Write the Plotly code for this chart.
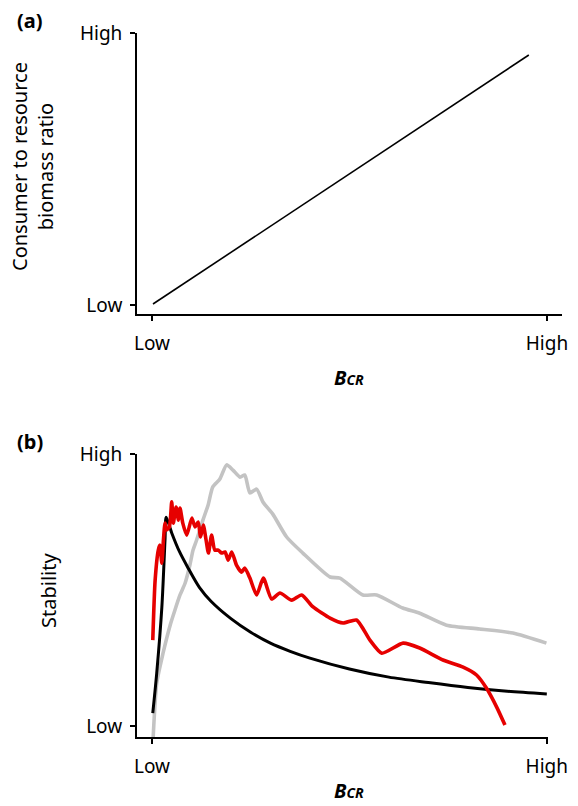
import plotly.graph_objects as go

# ---------- data ----------
tick_vals = [0, 1]
tick_text = ["Low", "High"]

# panel (a): consumer to resource biomass ratio vs B_CR
a_x = [0.0025, 0.954]
a_y = [0.0037, 0.919]

# panel (b): stability curves
black_x = [0.002, 0.012, 0.025, 0.033, 0.036, 0.05, 0.07, 0.09, 0.12, 0.15, 0.2, 0.25,
           0.3, 0.35, 0.4, 0.5, 0.6, 0.7, 0.8, 0.9, 1.0]
black_y = [0.048, 0.195, 0.437, 0.684, 0.768, 0.71, 0.64, 0.585, 0.51, 0.458, 0.395, 0.345,
           0.305, 0.275, 0.25, 0.21, 0.18, 0.16, 0.142, 0.128, 0.118]

gray_x = [0.003, 0.012, 0.028, 0.046, 0.058, 0.071, 0.084, 0.096, 0.104, 0.113, 0.129,
          0.142, 0.154, 0.172, 0.189, 0.205, 0.223, 0.235, 0.248, 0.265, 0.281, 0.306,
          0.341, 0.382, 0.451, 0.476, 0.534, 0.569, 0.635, 0.678, 0.746, 0.830, 0.914, 0.999]
gray_y = [-0.04, 0.158, 0.268, 0.371, 0.426, 0.482, 0.526, 0.592, 0.647, 0.684, 0.757,
          0.812, 0.879, 0.908, 0.96, 0.941, 0.915, 0.923, 0.857, 0.871, 0.824, 0.779,
          0.695, 0.636, 0.548, 0.544, 0.482, 0.482, 0.434, 0.415, 0.371, 0.357, 0.342, 0.305]

red_x = [0.002, 0.008, 0.016, 0.020, 0.025, 0.029, 0.033, 0.037, 0.044, 0.050, 0.054,
         0.061, 0.067, 0.071, 0.078, 0.088, 0.101, 0.109, 0.117, 0.123, 0.130, 0.137,
         0.143, 0.151, 0.159, 0.168, 0.176, 0.185, 0.193, 0.202, 0.214, 0.227, 0.235,
         0.248, 0.265, 0.282, 0.303, 0.324, 0.354, 0.379, 0.408, 0.451, 0.484, 0.518,
         0.552, 0.582, 0.636, 0.678, 0.737, 0.788, 0.822, 0.847, 0.873, 0.894]
red_y = [0.316, 0.537, 0.647, 0.665, 0.599, 0.684, 0.746, 0.721, 0.732, 0.824, 0.746,
         0.805, 0.757, 0.801, 0.746, 0.702, 0.765, 0.732, 0.75, 0.695, 0.739, 0.684,
         0.636, 0.702, 0.647, 0.647, 0.636, 0.640, 0.610, 0.640, 0.592, 0.566, 0.581,
         0.544, 0.482, 0.544, 0.467, 0.489, 0.463, 0.482, 0.438, 0.397, 0.379, 0.390,
         0.316, 0.268, 0.305, 0.287, 0.243, 0.217, 0.188, 0.140, 0.070, 0.004]

FONT = "Noto Sans"

fig = go.Figure()
fig.add_trace(go.Scatter(x=a_x, y=a_y, mode="lines", line=dict(color="black", width=1.6),
                         xaxis="x", yaxis="y", showlegend=False, hoverinfo="skip"))
fig.add_trace(go.Scatter(x=gray_x, y=gray_y, mode="lines",
                         line=dict(color="#c3c3c3", width=3.6, shape="spline", smoothing=0.6),
                         xaxis="x2", yaxis="y2", showlegend=False, hoverinfo="skip"))
fig.add_trace(go.Scatter(x=black_x, y=black_y, mode="lines",
                         line=dict(color="black", width=3, shape="spline", smoothing=0.8),
                         xaxis="x2", yaxis="y2", showlegend=False, hoverinfo="skip"))
fig.add_trace(go.Scatter(x=red_x, y=red_y, mode="lines",
                         line=dict(color="#e60000", width=3.6, shape="spline", smoothing=0.6),
                         xaxis="x2", yaxis="y2", showlegend=False, hoverinfo="skip"))

axis_common = dict(tickvals=tick_vals, ticktext=tick_text, ticks="outside", ticklen=5,
                   tickwidth=1.5, tickcolor="black", showline=True, linecolor="black",
                   showgrid=False, zeroline=False, fixedrange=True, automargin=False,
                   tickfont=dict(family=FONT, size=19, color="black"))

fig.update_layout(
    template="none",
    width=578, height=806, margin=dict(l=0, r=0, t=0, b=0, pad=0),
    paper_bgcolor="white", plot_bgcolor="white",
    xaxis=dict(domain=[0.237, 0.9723], range=[-0.038, 1.038], anchor="y", linewidth=1.6,
               ticklabelstandoff=6, **axis_common),
    yaxis=dict(domain=[0.6104, 0.9591], range=[-0.033, 1.0], anchor="x", linewidth=1.6,
               ticklabelstandoff=4, **axis_common),
    xaxis2=dict(domain=[0.237, 0.9481], range=[-0.038, 1.003], anchor="y2", linewidth=2,
                ticklabelstandoff=6, **axis_common),
    yaxis2=dict(domain=[0.0856, 0.4367], range=[-0.04, 1.0], anchor="x2", linewidth=2,
                ticklabelstandoff=4, **axis_common),
)

title_font = dict(family=FONT, size=20, color="black")
bcr = "<b><i>B<span style='font-size:14px'>CR</span></i></b>"
anns = [
    dict(text="<b>(a)</b>", x=30/578, y=1-21/806, yanchor="middle"),
    dict(text="<b>(b)</b>", x=30/578, y=1-442/806, yanchor="middle"),
    dict(text="Consumer to resource<br>biomass ratio", x=32/578, y=1-167/806,
         textangle=-90, yanchor="middle"),
    dict(text="Stability", x=48/578, y=1-591/806, textangle=-90, yanchor="middle"),
    dict(text=bcr, x=349/578, y=1-377/806, yanchor="middle"),
    dict(text=bcr, x=349/578, y=1/806, yanchor="bottom"),
]
for a in anns:
    fig.add_annotation(xref="paper", yref="paper", showarrow=False, font=title_font,
                       xanchor="center", borderpad=0, **a)

fig.write_html("out.html", config={"displayModeBar": False},
               post_script="document.body.style.margin='0';document.body.style.overflow='hidden';")
